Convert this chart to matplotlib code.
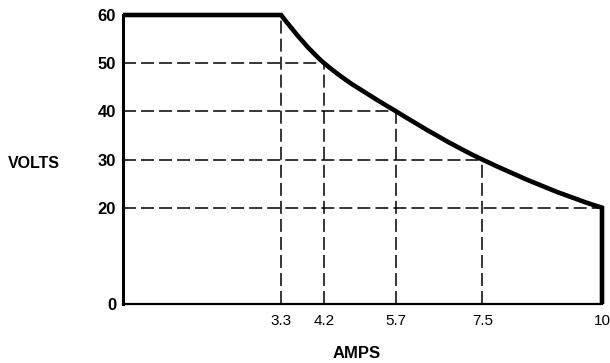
import matplotlib
matplotlib.use("Agg")
import matplotlib.pyplot as plt
from matplotlib.path import Path
from matplotlib.patches import PathPatch
import numpy as np

# Data
amps = [0.0, 3.3, 4.2, 5.7, 7.5, 10.0]
volts = [60, 60, 50, 40, 30, 20]
x_ticks = [3.3, 4.2, 5.7, 7.5, 10]
x_tick_labels = ["3.3", "4.2", "5.7", "7.5", "10"]
y_ticks = [0, 20, 30, 40, 50, 60]
y_tick_labels = ["0", "20", "30", "40", "50", "60"]

FONT = "Liberation Sans"

fig = plt.figure(figsize=(6.10, 3.63), dpi=100)
ax = fig.add_axes([123 / 610, 1 - 304 / 363, (602 - 123) / 610, (304 - 15) / 363])
ax.set_xlim(0, 10)
ax.set_ylim(0, 60)

# Smooth curve through the falling part (PCHIP-style Hermite -> Bezier)
cx = np.array(amps[1:])
cy = np.array(volts[1:], dtype=float)
h = np.diff(cx)
d = np.diff(cy) / h
m = np.empty_like(cy)
for i in range(1, len(cx) - 1):
    w1 = 2 * h[i] + h[i - 1]
    w2 = h[i] + 2 * h[i - 1]
    m[i] = (w1 + w2) / (w1 / d[i - 1] + w2 / d[i])
m[0] = ((2 * h[0] + h[1]) * d[0] - h[0] * d[1]) / (h[0] + h[1])
m[-1] = ((2 * h[-1] + h[-2]) * d[-1] - h[-1] * d[-2]) / (h[-1] + h[-2])

verts = [(amps[0], volts[0]), (cx[0], cy[0])]
codes = [Path.MOVETO, Path.LINETO]
for i in range(len(cx) - 1):
    hh = h[i] / 3.0
    verts += [(cx[i] + hh, cy[i] + m[i] * hh),
              (cx[i + 1] - hh, cy[i + 1] - m[i + 1] * hh),
              (cx[i + 1], cy[i + 1])]
    codes += [Path.CURVE4, Path.CURVE4, Path.CURVE4]
verts.append((cx[-1], 0))
codes.append(Path.LINETO)
path = Path(verts, codes)
ax.add_patch(PathPatch(path, facecolor="none", edgecolor="black", lw=3.3,
                       joinstyle="miter", capstyle="butt", zorder=5, clip_on=False))

dash = (0, (8.5, 3.3))
# horizontal guide lines
for v, a in zip(volts[2:], amps[2:]):
    ax.plot([0, a], [v, v], color="black", lw=1.1, linestyle=dash, zorder=3)
# vertical guide lines
for a, v in zip(amps[1:-1], volts[1:-1]):
    ax.plot([a, a], [0, v], color="black", lw=1.1, linestyle=dash, zorder=3)

for s in ["top", "right"]:
    ax.spines[s].set_visible(False)
ax.spines["left"].set_linewidth(2.2)
ax.spines["bottom"].set_linewidth(1.6)

ax.set_xticks(x_ticks)
ax.set_xticklabels(x_tick_labels, fontfamily=FONT, fontsize=11)
ax.set_yticks(y_ticks)
ax.set_yticklabels(y_tick_labels, fontfamily=FONT, fontsize=12, fontweight="bold")
ax.tick_params(axis="x", length=0, pad=7)
ax.tick_params(axis="y", length=0, pad=5)

fig.text(34 / 610, 1 - 163 / 363, "VOLTS", fontfamily=FONT, fontsize=11.5,
         fontweight="bold", ha="center", va="center")
fig.text(357 / 610, 1 - 353 / 363, "AMPS", fontfamily=FONT, fontsize=12,
         fontweight="bold", ha="center", va="center")

fig.savefig("out.png", dpi=100)
